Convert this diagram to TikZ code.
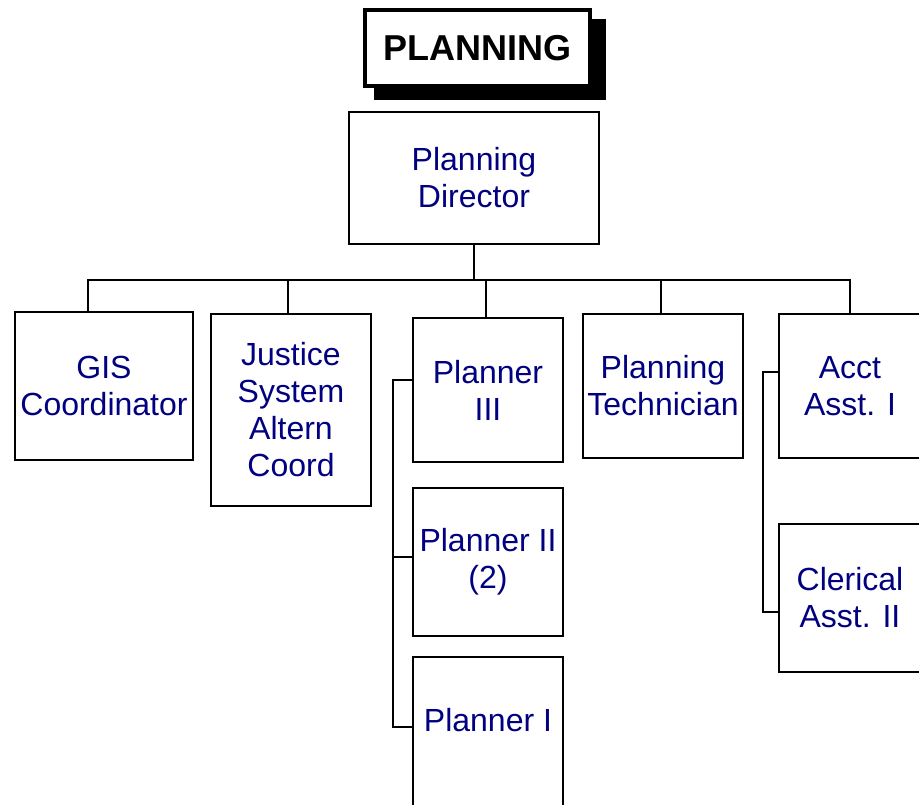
\documentclass[tikz,border=0pt]{standalone}
\usepackage{fontspec}
\setmainfont{Liberation Sans}
\definecolor{navytext}{RGB}{0,0,128}

\begin{document}
\begin{tikzpicture}[x=1pt, y=-1pt,
    post/.style  = {draw, line width=2pt, text=navytext, align=center,
                    inner sep=1pt,
                    font=\fontsize{32}{37}\selectfont},
    heading/.style = {draw, fill=white, line width=4pt,
                      minimum width=225pt, minimum height=76pt,
                      font=\fontsize{36}{40}\selectfont\bfseries}]
  \useasboundingbox (0,0) rectangle (919,805);
  \clip (0,0) rectangle (919,805);
  % title with its solid shadow
  \fill[black] (374,19) rectangle (606,100);
  \node[heading] (title) at (477.5,48) {PLANNING};
  % director and first row
  \node[post, minimum width=250pt, minimum height=132pt] (dir)  at (474,178) {Planning\\Director};
  \node[post, minimum width=178pt, minimum height=148pt] (gis)  at (104,386) {GIS\\Coordinator};
  \node[post, minimum width=160pt, minimum height=192pt] (jsa)  at (291,410) {Justice\\System\\Altern\\Coord};
  \node[post, minimum width=150pt, minimum height=144pt] (p3)   at (488,390) {Planner\\III};
  \node[post, minimum width=160pt, minimum height=144pt] (tech) at (663,386) {Planning\\Technician};
  \node[post, minimum width=142pt, minimum height=144pt] (acct) at (850,386) {Acct\\Asst. I};
  % staff below
  \node[post, minimum width=150pt, minimum height=148pt] (p2)   at (488,562) {Planner II\\(2)};
  \node[post, minimum width=150pt, minimum height=155pt,
        text depth=30pt]                                 (p1)   at (488,734.5) {Planner I};
  \node[post, minimum width=142pt, minimum height=148pt] (cler) at (850,598) {Clerical\\Asst. II};
  % bus line
  \coordinate (bus) at (474,280);
  \draw[line width=2pt] (dir.south) -- (bus);
  \draw[line width=2pt] ([xshift=-16pt]gis.north) -- ([xshift=-16pt]gis.north |- bus)
                        -- (acct.north |- bus) -- (acct.north);
  \draw[line width=2pt] ([xshift=-3pt]jsa.north) -- ([xshift=-3pt]jsa.north |- bus);
  \draw[line width=2pt] ([xshift=-2pt]p3.north) -- ([xshift=-2pt]p3.north |- bus);
  \draw[line width=2pt] ([xshift=-2pt]tech.north) -- ([xshift=-2pt]tech.north |- bus);
  % side brackets
  \draw[line width=2pt] ([yshift=10pt]p3.west) -- ++(-19,0) |- ([yshift=7.5pt]p1.west);
  \draw[line width=2pt] ([yshift=5pt]p2.west) -- ++(-19,0);
  \draw[line width=2pt] ([yshift=14pt]acct.west) -- ++(-15,0) |- ([yshift=-14pt]cler.west);
\end{tikzpicture}
\end{document}
